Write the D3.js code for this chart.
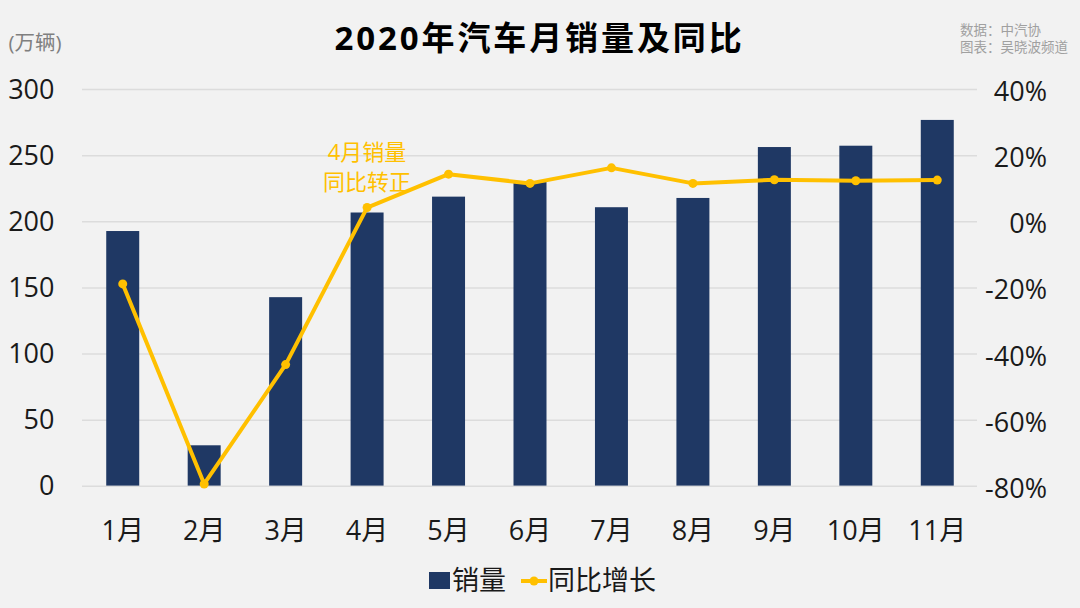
<!DOCTYPE html>
<html>
<head>
<meta charset="utf-8">
<script src="https://cdn.jsdelivr.net/npm/d3@7"></script>
<style>
  body { margin: 0; background: #f2f2f2; }
  text { font-family: "Open Sans", "Noto Sans CJK SC", sans-serif; }
</style>
</head>
<body>
<svg id="chart" width="1080" height="608" style="display:block"></svg>
<script>
var months = ['1月', '2月', '3月', '4月', '5月', '6月', '7月', '8月', '9月', '10月', '11月'];
var sales = [193, 31, 143, 207, 219, 230, 211, 218, 256.5, 257.5, 277];
var growth = [-18.8, -79.3, -43.2, 4.3, 14.4, 11.6, 16.3, 11.6, 12.7, 12.4, 12.6];
var salesTicks = [0, 50, 100, 150, 200, 250, 300];
var growthTicks = [-80, -60, -40, -20, 0, 20, 40];

var navy = '#1f3864', gold = '#ffc000', grid = '#dcdcdc', ink = '#1a1a1a';
var svg = d3.select('#chart');

var x = d3.scaleBand().domain(months).range([82, 978]).paddingInner(0.595).paddingOuter(0.2975);
var y = d3.scaleLinear().domain([0, 300]).range([486.3, 89.5]);
var y2 = d3.scaleLinear().domain([-80, 40]).range([486.3, 89.5]);

svg.append('g').selectAll('line')
    .data(salesTicks)
    .join('line')
    .attr('x1', 82).attr('x2', 977)
    .attr('y1', function(d) { return y(d); })
    .attr('y2', function(d) { return y(d); })
    .attr('stroke', grid)
    .attr('stroke-width', 1.5);

svg.append('g').selectAll('rect')
    .data(months)
    .join('rect')
    .attr('x', function(d) { return x(d); })
    .attr('width', x.bandwidth())
    .attr('y', function(d, i) { return y(sales[i]); })
    .attr('height', function(d, i) { return y(0) - y(sales[i]) - 0.7; })
    .attr('fill', navy);

var center = function(d) { return x(d) + x.bandwidth() / 2; };

var line = d3.line()
    .x(function(d, i) { return center(months[i]); })
    .y(function(d) { return y2(d); });

svg.append('path')
    .datum(growth)
    .attr('d', line)
    .attr('fill', 'none')
    .attr('stroke', gold)
    .attr('stroke-width', 4)
    .attr('stroke-linejoin', 'round');

svg.append('g').selectAll('circle')
    .data(growth)
    .join('circle')
    .attr('cx', function(d, i) { return center(months[i]); })
    .attr('cy', function(d) { return y2(d); })
    .attr('r', 4.5)
    .attr('fill', gold);

// axis labels
svg.append('g').selectAll('text')
    .data(salesTicks)
    .join('text')
    .attr('x', 54.5).attr('y', function(d) { return y(d) + 9; })
    .attr('text-anchor', 'end')
    .attr('font-size', 27)
    .attr('fill', ink)
    .text(function(d) { return d; });

svg.append('g').selectAll('text')
    .data(growthTicks)
    .join('text')
    .attr('x', 1047).attr('y', function(d) { return y2(d) + 11.5; })
    .attr('text-anchor', 'end')
    .attr('font-size', 27)
    .attr('fill', ink)
    .text(function(d) { return d + '%'; });

svg.append('g').selectAll('text')
    .data(months)
    .join('text')
    .attr('x', center)
    .attr('y', 540)
    .attr('text-anchor', 'middle')
    .attr('font-size', 27)
    .attr('fill', ink)
    .text(function(d) { return d; });

svg.append('text')
    .attr('x', 539.5).attr('y', 50)
    .attr('text-anchor', 'middle')
    .attr('font-size', 33)
    .attr('font-weight', 700)
    .attr('letter-spacing', 2.9)
    .attr('fill', '#000')
    .text('2020年汽车月销量及同比');

svg.append('text')
    .attr('x', 8.5).attr('y', 50)
    .attr('font-size', 20.5)
    .attr('fill', '#7f7f7f')
    .text('(万辆)');

svg.selectAll('.source')
    .data(['数据：中汽协', '图表：吴晓波频道'])
    .join('text')
    .attr('class', 'source')
    .attr('x', 960)
    .attr('y', function(d, i) { return 35 + i * 16.5; })
    .attr('font-size', 13.5)
    .attr('fill', '#a0a0a0')
    .text(function(d) { return d; });

svg.selectAll('.note')
    .data(['4月销量', '同比转正'])
    .join('text')
    .attr('class', 'note')
    .attr('x', 367)
    .attr('y', function(d, i) { return 160 + i * 30; })
    .attr('text-anchor', 'middle')
    .attr('font-size', 22)
    .attr('fill', gold)
    .text(function(d) { return d; });

// legend
svg.append('rect').attr('x', 429).attr('y', 572).attr('width', 21).attr('height', 17).attr('fill', navy);
svg.append('text').attr('x', 452).attr('y', 590).attr('font-size', 27).attr('fill', ink).text('销量');
svg.append('line').attr('x1', 521).attr('x2', 547).attr('y1', 581).attr('y2', 581).attr('stroke', gold).attr('stroke-width', 4);
svg.append('circle').attr('cx', 534).attr('cy', 581).attr('r', 4.5).attr('fill', gold);
svg.append('text').attr('x', 548).attr('y', 590).attr('font-size', 27).attr('fill', ink).text('同比增长');
</script>
</body>
</html>
